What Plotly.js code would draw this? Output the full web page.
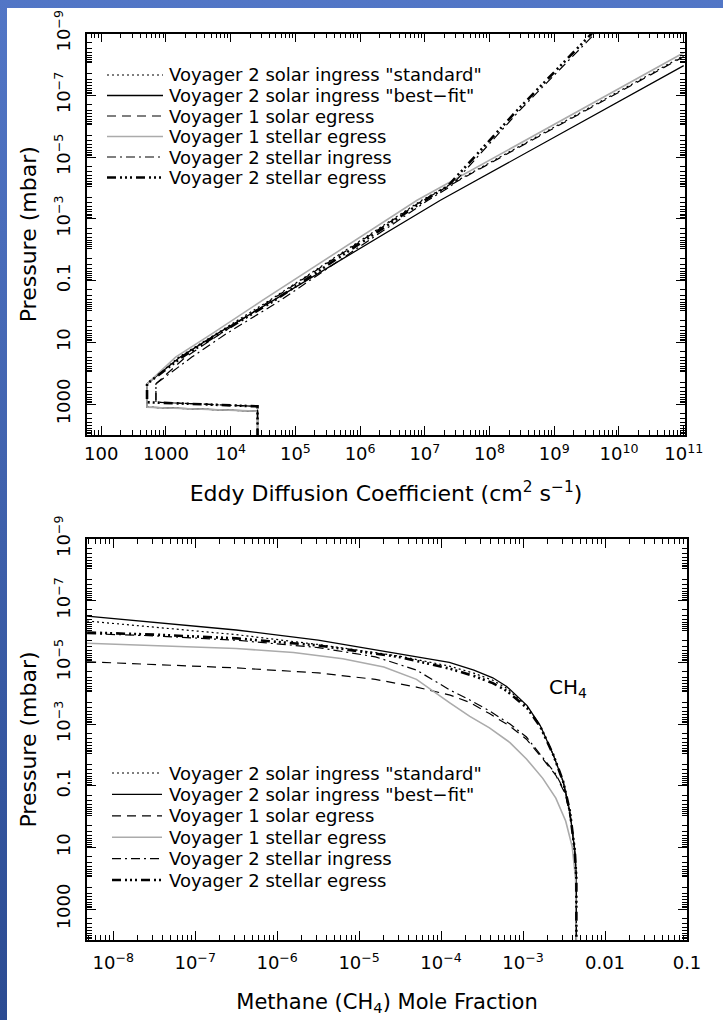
<!DOCTYPE html>
<html><head><meta charset="utf-8">
<script src="https://cdn.plot.ly/plotly-3.0.1.min.js"></script>
<style>
html,body{margin:0;padding:0;background:linear-gradient(to bottom,#5276c6,#2b4b92);}
body{width:723px;height:1020px;}
#chart{width:723px;height:1020px;}
</style></head><body><div id="chart"></div>
<script>
// ---------- names ----------
const seriesNames = [
  'Voyager 2 solar ingress "standard"',
  'Voyager 2 solar ingress "best\u2212fit"',
  'Voyager 1 solar egress',
  'Voyager 1 stellar egress',
  'Voyager 2 stellar ingress',
  'Voyager 2 stellar egress'
];

// ---------- top panel: eddy diffusion coefficient (cm2 s-1) vs pressure (mbar) ----------
const eddyK_standard = [2.6e4, 2.6e4, 510, 510, 1580, 6030, 3.98e4, 8.91e6, 1e11];
const eddyP_standard = [1.2e4, 1700, 1260, 220, 30, 5.13, 0.437, 2.51e-4, 5.2e-9];
const eddyK_bestfit  = [2.6e4, 2.6e4, 510, 510, 1660, 6310, 4.57e4, 1.74e7, 1e11];
const eddyP_bestfit  = [1.2e4, 1700, 1260, 220, 30, 5.13, 0.437, 2.51e-4, 1.1e-8];
const eddyK_v1solar  = [2.6e4, 2.6e4, 700, 700, 2000, 7080, 4.17e4, 9.33e6, 1e11];
const eddyP_v1solar  = [1.2e4, 1180, 870, 220, 30, 5.13, 0.437, 2.51e-4, 5.6e-9];
const eddyK_v1stellar= [2.6e4, 2.6e4, 510, 510, 1410, 5250, 3.09e4, 7.59e6, 1e11];
const eddyP_v1stellar= [1.2e4, 1700, 1260, 220, 30, 5.13, 0.437, 2.51e-4, 4.2e-9];
const eddyK_v2ingress= [2.6e4, 2.6e4, 700, 700, 2510, 8710, 5.89e4, 1.12e7, 2.51e7, 2.95e8, 4.27e9];
const eddyP_v2ingress= [1.2e4, 1180, 870, 220, 30, 5.13, 0.437, 2.51e-4, 8.91e-5, 3.02e-7, 1e-9];
const eddyK_v2egress = [2.6e4, 2.6e4, 510, 510, 1780, 6760, 4.79e4, 1.0e7, 2.24e7, 2.69e8, 3.80e9];
const eddyP_v2egress = [1.2e4, 1180, 870, 220, 30, 5.13, 0.437, 2.51e-4, 8.91e-5, 3.02e-7, 1e-9];

// ---------- bottom panel: CH4 mole fraction vs pressure (mbar) ----------
const ch4Q_standard = [4.8e-9, 3.16e-8, 3.16e-7, 3.16e-6, 3.16e-5, 1.26e-4, 2.51e-4, 4.27e-4, 6.31e-4, 1.12e-3, 1.62e-3, 2.34e-3, 3.09e-3, 3.72e-3, 4.27e-3, 4.47e-3, 4.47e-3];
const ch4P_standard = [4.57e-7, 7.24e-7, 1.26e-6, 2.63e-6, 6.31e-6, 1.32e-5, 2.24e-5, 3.80e-5, 6.92e-5, 2.69e-4, 1.15e-3, 0.01, 0.0741, 0.661, 12.3, 100, 1e4];
const ch4Q_bestfit  = [4.8e-9, 3.16e-8, 3.16e-7, 3.16e-6, 3.16e-5, 1.26e-4, 2.51e-4, 4.27e-4, 6.31e-4, 1.12e-3, 1.62e-3, 2.34e-3, 3.09e-3, 3.72e-3, 4.27e-3, 4.47e-3, 4.47e-3];
const ch4P_bestfit  = [3.16e-7, 5.01e-7, 8.91e-7, 1.91e-6, 5.25e-6, 1.0e-5, 1.78e-5, 3.16e-5, 6.03e-5, 2.51e-4, 1.12e-3, 0.01, 0.0741, 0.661, 12.3, 100, 1e4];
const ch4Q_v1solar  = [4.8e-9, 3.16e-8, 3.16e-7, 3.16e-6, 1.58e-5, 5.01e-5, 1.29e-4, 2.24e-4, 3.89e-4, 6.92e-4, 1.10e-3, 1.74e-3, 2.51e-3, 3.31e-3, 3.89e-3, 4.27e-3, 4.47e-3, 4.47e-3];
const ch4P_v1solar  = [9.55e-6, 1.15e-5, 1.51e-5, 2.19e-5, 3.55e-5, 6.31e-5, 1.15e-4, 2.0e-4, 4.57e-4, 1.17e-3, 3.09e-3, 0.0135, 0.0457, 0.195, 1.58, 12.3, 100, 1e4];
const ch4Q_v1stellar= [4.8e-9, 3.16e-8, 3.16e-7, 1.58e-6, 6.31e-6, 2.0e-5, 5.01e-5, 1.29e-4, 2.24e-4, 3.89e-4, 6.92e-4, 1.10e-3, 1.74e-3, 2.51e-3, 3.31e-3, 3.98e-3, 4.37e-3, 4.47e-3];
const ch4P_v1stellar= [2.40e-6, 2.82e-6, 3.55e-6, 4.79e-6, 7.59e-6, 1.41e-5, 3.55e-5, 2.09e-4, 5.62e-4, 1.32e-3, 3.98e-3, 0.0135, 0.0575, 0.251, 1.38, 9.55, 100, 1e4];
const ch4Q_v2ingress= [4.8e-9, 3.16e-8, 3.16e-7, 3.16e-6, 1.58e-5, 5.01e-5, 1.29e-4, 2.24e-4, 3.89e-4, 6.92e-4, 1.10e-3, 1.74e-3, 2.51e-3, 3.31e-3, 3.80e-3, 4.27e-3, 4.47e-3, 4.47e-3];
const ch4P_v2ingress= [1.17e-6, 1.38e-6, 1.91e-6, 3.31e-6, 6.61e-6, 1.78e-5, 7.94e-5, 1.66e-4, 3.72e-4, 1.0e-3, 2.63e-3, 0.0117, 0.0417, 0.174, 1.26, 12.3, 100, 1e4];
const ch4Q_v2egress = [4.8e-9, 3.16e-8, 3.16e-7, 3.16e-6, 3.16e-5, 1.26e-4, 2.51e-4, 4.27e-4, 6.31e-4, 1.12e-3, 1.62e-3, 2.34e-3, 3.09e-3, 3.72e-3, 4.27e-3, 4.47e-3, 4.47e-3];
const ch4P_v2egress = [1.07e-6, 1.26e-6, 1.66e-6, 2.82e-6, 6.76e-6, 1.58e-5, 2.75e-5, 4.68e-5, 8.32e-5, 3.02e-4, 1.20e-3, 0.01, 0.0741, 0.661, 12.3, 100, 1e4];

// ---------- tick labels ----------
const eddyTickVals = [1e2,1e3,1e4,1e5,1e6,1e7,1e8,1e9,1e10,1e11];
const eddyTickText = ['100','1000','10<sup>4</sup>','10<sup>5</sup>','10<sup>6</sup>','10<sup>7</sup>','10<sup>8</sup>','10<sup>9</sup>','10<sup>10</sup>','10<sup>11</sup>'];
const ch4TickVals = [1e-8,1e-7,1e-6,1e-5,1e-4,1e-3,1e-2,1e-1];
const ch4TickText = ['10<sup>\u22128</sup>','10<sup>\u22127</sup>','10<sup>\u22126</sup>','10<sup>\u22125</sup>','10<sup>\u22124</sup>','10<sup>\u22123</sup>','0.01','0.1'];
const presTickVals = [1e-9,1e-7,1e-5,1e-3,1e-1,10,1000];
const presTickText = ['10<sup>\u22129</sup>','10<sup>\u22127</sup>','10<sup>\u22125</sup>','10<sup>\u22123</sup>','0.1','10','1000'];
const presOddDecades = [1e-8,1e-6,1e-4,1e-2,1,100];

// ---------- styles ----------
const lineStyles = [
  {color:'#000', width:1.2, dash:'2px,3px'},
  {color:'#000', width:1.3, dash:'solid'},
  {color:'#000', width:1.2, dash:'9px,6px'},
  {color:'#ababab', width:1.6, dash:'solid'},
  {color:'#000', width:1.2, dash:'9px,4px,2px,4px'},
  {color:'#000', width:2.6, dash:'9px,4px,2px,3px,2px,3px,2px,4px'}
];
const eddyX = [eddyK_standard, eddyK_bestfit, eddyK_v1solar, eddyK_v1stellar, eddyK_v2ingress, eddyK_v2egress];
const eddyY = [eddyP_standard, eddyP_bestfit, eddyP_v1solar, eddyP_v1stellar, eddyP_v2ingress, eddyP_v2egress];
const ch4X = [ch4Q_standard, ch4Q_bestfit, ch4Q_v1solar, ch4Q_v1stellar, ch4Q_v2ingress, ch4Q_v2egress];
const ch4Y = [ch4P_standard, ch4P_bestfit, ch4P_v1solar, ch4P_v1stellar, ch4P_v2ingress, ch4P_v2egress];

const W = 723, H = 1020;
const px = x => x / W;
const py = y => 1 - y / H;
const FONT = 'DejaVu Sans';

const traces = [];
seriesNames.forEach((n, i) => {
  traces.push({x: eddyX[i], y: eddyY[i], xaxis:'x', yaxis:'y', type:'scatter', mode:'lines', name:n, line:lineStyles[i], showlegend:false, hoverinfo:'skip'});
});
seriesNames.forEach((n, i) => {
  traces.push({x: ch4X[i], y: ch4Y[i], xaxis:'x2', yaxis:'y2', type:'scatter', mode:'lines', name:n, line:lineStyles[i], showlegend:false, hoverinfo:'skip'});
});

function minorVals(lo, hi) {
  const v = [];
  for (let e = lo; e <= hi; e++) for (let m = 2; m <= 9; m++) v.push(m * Math.pow(10, e));
  return v;
}
const minorStyle = {ticks:'inside', ticklen:5, tickwidth:1, tickcolor:'#000', tickmode:'array', showgrid:false};
function axisStyle(extra) {
  return Object.assign({
    type:'log', showline:true, linecolor:'#000', linewidth:1.5, mirror:'allticks',
    ticks:'inside', ticklen:9, tickwidth:1, tickcolor:'#000',
    showgrid:false, zeroline:false, tickmode:'array',
    tickfont:{family:FONT, size:18, color:'#000'}
  }, extra);
}

// white page area (the blue frame of the slide shows on the left and top edges)
const shapes = [{type:'rect', xref:'paper', yref:'paper', x0:px(7), x1:1, y0:0, y1:py(8), fillcolor:'#fff', line:{width:0}, layer:'below'}];
const annotations = [];
// manual legends
const legendTop = {x0:107, x1:163, tx:167, rows:[75, 95.5, 116, 136.5, 157, 177.5]};
const legendBot = {x0:112, x1:162, tx:167, rows:[773, 794.4, 815.8, 837.2, 858.6, 880]};
[legendTop, legendBot].forEach(L => {
  seriesNames.forEach((n, i) => {
    shapes.push({type:'line', xref:'paper', yref:'paper', x0:px(L.x0), x1:px(L.x1), y0:py(L.rows[i]), y1:py(L.rows[i]), line:lineStyles[i]});
    annotations.push({xref:'paper', yref:'paper', x:px(L.tx), y:py(L.rows[i]), xanchor:'left', yanchor:'middle', showarrow:false, text:n, font:{family:FONT, size:18, color:'#000'}});
  });
});
annotations.push({xref:'paper', yref:'paper', x:px(568), y:py(688), xanchor:'center', yanchor:'middle', showarrow:false, text:'CH<sub>4</sub>', font:{family:FONT, size:20, color:'#000'}});

const topY = [py(435), py(33.5)], botY = [py(940), py(539)];
const layout = {
  width: W, height: H,
  margin:{l:0, r:0, t:0, b:0},
  paper_bgcolor:'rgba(0,0,0,0)', plot_bgcolor:'#fff',
  showlegend:false,
  font:{family:FONT, color:'#000', size:18},
  xaxis: axisStyle({domain:[px(87), px(685)], range:[1.78, 11.02], anchor:'y',
    tickvals:eddyTickVals, ticktext:eddyTickText, ticklabelstandoff:2,
    minor:Object.assign({tickvals:minorVals(1,10)}, minorStyle),
    title:{text:'Eddy Diffusion Coefficient (cm<sup>2</sup> s<sup>\u22121</sup>)', font:{family:FONT, size:22}, standoff:22}}),
  yaxis: axisStyle({domain:topY, range:[4, -9], anchor:'x',
    tickvals:presTickVals, ticktext:presTickText, tickangle:-90, ticklabelstandoff:8,
    minor:Object.assign({tickvals:minorVals(-10,3)}, minorStyle),
    title:{text:'Pressure (mbar)', font:{family:FONT, size:22}, standoff:8}}),
  yaxis3: axisStyle({domain:topY, range:[4, -9], anchor:'x', overlaying:'y', side:'left',
    tickvals:presOddDecades, showticklabels:false, showline:false}),
  xaxis2: axisStyle({domain:[px(87), px(687)], range:[-8.32, -1], anchor:'y2',
    tickvals:ch4TickVals, ticktext:ch4TickText, ticklabelstandoff:6,
    minor:Object.assign({tickvals:minorVals(-9,-2)}, minorStyle),
    title:{text:'Methane (CH<sub>4</sub>) Mole Fraction', font:{family:FONT, size:21}, standoff:22}}),
  yaxis2: axisStyle({domain:botY, range:[4, -9], anchor:'x2',
    tickvals:presTickVals, ticktext:presTickText, tickangle:-90, ticklabelstandoff:8,
    minor:Object.assign({tickvals:minorVals(-10,3)}, minorStyle),
    title:{text:'Pressure (mbar)', font:{family:FONT, size:22}, standoff:8}}),
  yaxis4: axisStyle({domain:botY, range:[4, -9], anchor:'x2', overlaying:'y2', side:'left',
    tickvals:presOddDecades, showticklabels:false, showline:false}),
  shapes: shapes,
  annotations: annotations
};

Plotly.newPlot('chart', traces, layout, {displayModeBar:false});
</script></body></html>
